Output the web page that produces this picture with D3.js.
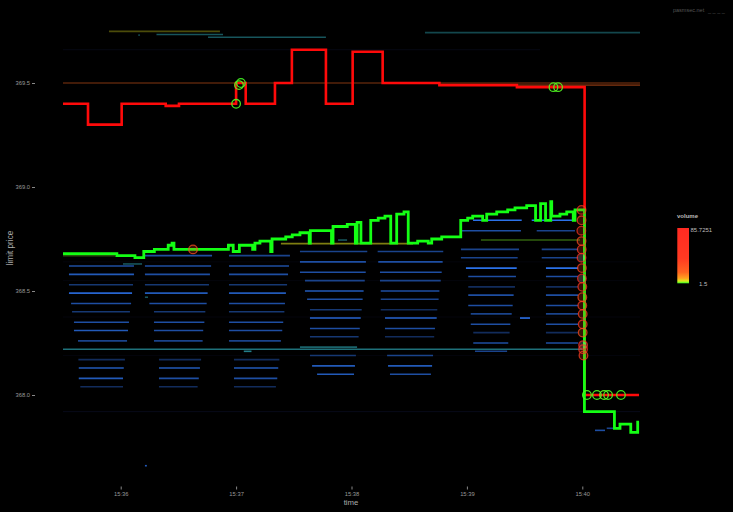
<!DOCTYPE html>
<html><head><meta charset="utf-8">
<script src="https://cdn.jsdelivr.net/npm/d3@7/dist/d3.min.js"></script>
<style>html,body{margin:0;padding:0;background:#000;overflow:hidden}</style>
</head><body>
<svg id="chart" width="733" height="512"></svg>
<script>
// ---------------- data ----------------
const timeDomain = ["15:35:30", "15:40:30"];
const priceDomain = [367.6, 369.8];
const timeTicks = ["15:36", "15:37", "15:38", "15:39", "15:40"];
const priceTicks = [368.0, 368.5, 369.0, 369.5];
const volumeRange = [1.5, 85.7251];
const watermark = "pasmsec.net";

// best ask (step line)
const askSteps = [
  ["15:35:30", 369.40], ["15:35:43", 369.30], ["15:36:00.5", 369.40], ["15:36:23.4", 369.39],
  ["15:36:30.3", 369.40], ["15:37:00", 369.50], ["15:37:05", 369.40], ["15:37:20.2", 369.50],
  ["15:37:29", 369.66], ["15:37:46.7", 369.40], ["15:38:00.6", 369.65], ["15:38:16.2", 369.50],
  ["15:38:45.7", 369.49], ["15:39:26", 369.48], ["15:40:01.2", 368.00], ["15:40:29.5", 368.00]
];

// best bid (step line)
const bidSteps = [
  ["15:35:30", 368.68], ["15:35:58", 368.67], ["15:36:07.4", 368.66], ["15:36:12", 368.69],
  ["15:36:17.5", 368.70], ["15:36:24.7", 368.72], ["15:36:26.7", 368.73], ["15:36:27.7", 368.70],
  ["15:36:56", 368.72], ["15:36:58.5", 368.69], ["15:37:01.7", 368.72], ["15:37:08.6", 368.70],
  ["15:37:09.8", 368.73], ["15:37:12.4", 368.74], ["15:37:18", 368.69], ["15:37:18.7", 368.75],
  ["15:37:25.8", 368.76], ["15:37:29.2", 368.77], ["15:37:33.2", 368.78], ["15:37:38", 368.73],
  ["15:37:38.6", 368.79], ["15:37:49.6", 368.73], ["15:37:50.4", 368.81], ["15:37:57.8", 368.82],
  ["15:38:02", 368.73], ["15:38:02.9", 368.83], ["15:38:04.9", 368.73], ["15:38:10", 368.84],
  ["15:38:13.9", 368.85], ["15:38:17.4", 368.86], ["15:38:20.4", 368.73], ["15:38:23.5", 368.87],
  ["15:38:27.3", 368.88], ["15:38:29.5", 368.73], ["15:38:34.4", 368.74], ["15:38:39.9", 368.73],
  ["15:38:41.7", 368.75], ["15:38:46.9", 368.76], ["15:38:56.8", 368.84], ["15:39:00.4", 368.85],
  ["15:39:03", 368.86], ["15:39:08.2", 368.84], ["15:39:10.3", 368.87], ["15:39:15.5", 368.88],
  ["15:39:21.2", 368.89], ["15:39:25", 368.90], ["15:39:31.1", 368.91], ["15:39:35.7", 368.84],
  ["15:39:38.3", 368.92], ["15:39:40.9", 368.84], ["15:39:43.6", 368.93], ["15:39:44.1", 368.86],
  ["15:39:48.4", 368.87], ["15:39:51.9", 368.88], ["15:39:55.3", 368.84], ["15:39:56.2", 368.89],
  ["15:40:01.1", 367.92], ["15:40:16.7", 367.84], ["15:40:19.6", 367.86], ["15:40:25.2", 367.82],
  ["15:40:28.8", 367.87], ["15:40:29.5", 367.87]
];

// trades: time, price, volume
const trades = [
  ["15:36:37.6", 368.70, 30],
  ["15:37:00", 369.40, 2], ["15:37:01.5", 369.49, 2.5], ["15:37:02.5", 369.50, 1.8],
  ["15:39:45", 369.48, 2], ["15:39:47.4", 369.48, 2.2],
  ["15:39:59.6", 368.89, 40], ["15:39:59.6", 368.84, 35], ["15:39:59.5", 368.79, 45],
  ["15:39:59.6", 368.74, 30], ["15:39:59.7", 368.70, 40], ["15:39:59.6", 368.66, 80],
  ["15:39:59.8", 368.61, 35], ["15:39:59.8", 368.56, 85], ["15:40:00", 368.52, 40],
  ["15:40:00", 368.47, 30], ["15:40:00", 368.43, 40], ["15:40:00.2", 368.39, 35],
  ["15:40:00.2", 368.34, 40], ["15:40:00.2", 368.30, 30], ["15:40:00.4", 368.24, 85],
  ["15:40:00.4", 368.22, 60], ["15:40:00.6", 368.19, 35],
  ["15:40:02.4", 368.00, 2], ["15:40:07.6", 368.00, 2], ["15:40:11.3", 368.00, 2.5],
  ["15:40:13.4", 368.00, 2], ["15:40:20.1", 368.00, 1.8]
];

// resting order levels: start, end, price, volume, kind
const depthSegments = [
  // faint levels
  ["15:35:30", "15:39:38", 369.66, 5, "n"], ["15:35:30", "15:40:30", 367.92, 6, "n"],
  ["15:35:30", "15:40:30", 368.55, 3, "n"], ["15:35:30", "15:40:30", 368.375, 3, "n"],
  ["15:35:30", "15:40:30", 368.64, 3, "n"], ["15:35:30", "15:40:30", 368.19, 3, "n"],
  // top levels
  ["15:35:53.9", "15:36:51.6", 369.748, 4, "y"], ["15:36:18.6", "15:36:53.2", 369.733, 5, "t"],
  ["15:36:45.4", "15:37:46.7", 369.72, 5, "t"], ["15:38:38.2", "15:40:30", 369.742, 4, "t"],
  ["15:36:09.2", "15:36:09.9", 369.73, 5, "t"],
  // ask level
  ["15:35:30", "15:40:30", 369.50, 6, "o"], ["15:39:26", "15:40:30", 369.49, 7, "o"],
  // long levels
  ["15:35:30", "15:40:00", 368.22, 7, "t"],
  ["15:37:23.3", "15:38:32", 368.728, 7, "y"], ["15:39:07.3", "15:39:58.8", 368.745, 6, "g"],
  ["15:35:30", "15:35:57", 368.67, 5, "g"],
  // small pieces
  ["15:36:01.2", "15:36:11.1", 368.63, 5, "t"], ["15:36:12.6", "15:36:14.2", 368.47, 5, "t"],
  ["15:37:53", "15:37:57.7", 368.745, 5, "t"], ["15:37:04", "15:37:08", 368.21, 8, "t"],
  ["15:36:12.6", "15:36:13.6", 367.66, 7, "b"], ["15:39:27.6", "15:39:32.8", 368.37, 9, "b"],
  // block 1
  ["15:35:33.1", "15:36:06.9", 368.62, 6, "b"], ["15:35:33.1", "15:36:06.9", 368.58, 7, "b"],
  ["15:35:33.1", "15:36:06.4", 368.53, 4, "b"], ["15:35:33.1", "15:36:05.9", 368.49, 8, "b"],
  ["15:35:34.2", "15:36:05.4", 368.44, 6, "b"], ["15:35:34.7", "15:36:04.8", 368.40, 4, "b"],
  ["15:35:35.7", "15:36:04.3", 368.35, 6, "b"], ["15:35:35.7", "15:36:03.8", 368.31, 7, "b"],
  ["15:35:37.8", "15:36:03.3", 368.26, 5, "b"], ["15:35:38", "15:36:02.2", 368.17, 3, "b"],
  ["15:35:38.2", "15:36:01.6", 368.13, 7, "b"], ["15:35:38.2", "15:36:01.2", 368.08, 7, "b"],
  ["15:35:39", "15:36:01.2", 368.04, 3, "b"],
  // block 2
  ["15:36:12.6", "15:36:47.5", 368.67, 6, "b"], ["15:36:12.6", "15:36:47", 368.62, 6, "b"],
  ["15:36:12.6", "15:36:46.4", 368.58, 6, "b"], ["15:36:12.6", "15:36:45.9", 368.53, 4, "b"],
  ["15:36:12.6", "15:36:45.2", 368.49, 7, "b"], ["15:36:14.9", "15:36:44.7", 368.44, 6, "b"],
  ["15:36:17.3", "15:36:44", 368.40, 4, "b"], ["15:36:17.3", "15:36:43.5", 368.35, 6, "b"],
  ["15:36:17.3", "15:36:42.9", 368.31, 6, "b"], ["15:36:17.3", "15:36:42.6", 368.26, 5, "b"],
  ["15:36:19.9", "15:36:41.8", 368.17, 3, "b"], ["15:36:19.9", "15:36:41.2", 368.13, 7, "b"],
  ["15:36:19.9", "15:36:40.6", 368.08, 6, "b"], ["15:36:19.9", "15:36:40", 368.04, 3, "b"],
  // block 3
  ["15:36:56.3", "15:37:28", 368.67, 5, "b"], ["15:36:56.3", "15:37:27.5", 368.62, 6, "b"],
  ["15:36:56.3", "15:37:27", 368.58, 6, "b"], ["15:36:56.3", "15:37:26.5", 368.53, 4, "b"],
  ["15:36:56.3", "15:37:25.9", 368.49, 7, "b"], ["15:36:56.3", "15:37:25.4", 368.44, 6, "b"],
  ["15:36:56.3", "15:37:25.1", 368.40, 4, "b"], ["15:36:56.3", "15:37:24.5", 368.35, 6, "b"],
  ["15:36:56.3", "15:37:24", 368.31, 6, "b"], ["15:36:56.3", "15:37:23.3", 368.26, 5, "b"],
  ["15:36:58.9", "15:37:22.5", 368.17, 3, "b"], ["15:36:58.9", "15:37:21.9", 368.13, 7, "b"],
  ["15:36:58.9", "15:37:21.4", 368.08, 6, "b"], ["15:36:58.9", "15:37:20.7", 368.04, 3, "b"],
  // block 4
  ["15:37:33.2", "15:38:08.2", 368.69, 5, "b"], ["15:37:33.2", "15:38:07.5", 368.64, 6, "b"],
  ["15:37:33.2", "15:38:07.4", 368.59, 6, "b"], ["15:37:35.8", "15:38:06.9", 368.55, 5, "b"],
  ["15:37:35.8", "15:38:06.3", 368.50, 7, "b"], ["15:37:36.9", "15:38:05.8", 368.46, 6, "b"],
  ["15:37:38.4", "15:38:05.3", 368.41, 4, "b"], ["15:37:38.4", "15:38:04.8", 368.37, 8, "b"],
  ["15:37:38.4", "15:38:04.3", 368.32, 6, "b"], ["15:37:38.4", "15:38:03.7", 368.28, 4, "b"],
  ["15:37:33.2", "15:38:02.9", 368.23, 6, "t"], ["15:37:38.4", "15:38:02.3", 368.19, 4, "b"],
  ["15:37:39.5", "15:38:01.8", 368.14, 7, "b"], ["15:37:42.1", "15:38:01.3", 368.10, 7, "b"],
  // block 5
  ["15:38:13.6", "15:38:47.7", 368.69, 5, "b"], ["15:38:13.9", "15:38:47.4", 368.64, 6, "b"],
  ["15:38:14.8", "15:38:46.9", 368.59, 6, "b"], ["15:38:14.8", "15:38:46.4", 368.55, 5, "b"],
  ["15:38:15.2", "15:38:45.7", 368.50, 6, "b"], ["15:38:15.2", "15:38:45.3", 368.46, 5, "b"],
  ["15:38:15.2", "15:38:44.6", 368.41, 3, "b"], ["15:38:17.4", "15:38:44.3", 368.37, 8, "b"],
  ["15:38:17.4", "15:38:43.4", 368.32, 6, "b"], ["15:38:17.4", "15:38:43", 368.28, 3, "b"],
  ["15:38:18.5", "15:38:42.4", 368.19, 5, "b"], ["15:38:19", "15:38:41.9", 368.14, 7, "b"],
  ["15:38:20", "15:38:41.3", 368.10, 6, "b"],
  // block 6
  ["15:39:03.2", "15:39:28.5", 368.84, 9, "b"], ["15:38:57.3", "15:39:28.1", 368.79, 6, "b"],
  ["15:38:56.9", "15:39:27.1", 368.70, 5, "b"], ["15:38:56.9", "15:39:26.4", 368.66, 5, "b"],
  ["15:38:59.5", "15:39:25.9", 368.61, 9, "b"], ["15:39:00.7", "15:39:25.5", 368.57, 6, "b"],
  ["15:39:00.7", "15:39:25", 368.52, 3, "b"], ["15:39:00.7", "15:39:24.3", 368.48, 6, "b"],
  ["15:39:00.7", "15:39:23.8", 368.43, 6, "b"], ["15:39:02", "15:39:23.3", 368.39, 5, "b"],
  ["15:39:02", "15:39:22.6", 368.34, 6, "b"], ["15:39:03.3", "15:39:22.2", 368.30, 3, "b"],
  ["15:39:03.3", "15:39:21.5", 368.25, 6, "b"], ["15:39:04.2", "15:39:20.9", 368.21, 5, "b"],
  // block 7
  ["15:39:33.7", "15:39:56.2", 368.84, 9, "b"], ["15:39:36.3", "15:39:56.2", 368.79, 5, "b"],
  ["15:39:38.9", "15:39:57.8", 368.70, 5, "b"], ["15:39:38.9", "15:39:57.8", 368.66, 5, "b"],
  ["15:39:41.1", "15:39:57.8", 368.61, 9, "b"], ["15:39:41.1", "15:39:57.8", 368.57, 6, "b"],
  ["15:39:41.1", "15:39:57.8", 368.52, 3, "b"], ["15:39:41.1", "15:39:57.8", 368.48, 6, "b"],
  ["15:39:41.1", "15:39:57.8", 368.43, 6, "b"], ["15:39:41.1", "15:39:57.8", 368.39, 5, "b"],
  ["15:39:41.1", "15:39:57.8", 368.34, 6, "b"], ["15:39:41.1", "15:39:57.8", 368.30, 3, "b"],
  ["15:39:41.1", "15:39:57.8", 368.25, 6, "b"],
  // after the drop
  ["15:40:06.6", "15:40:11.8", 367.83, 6, "b"], ["15:40:12.7", "15:40:16", 367.84, 5, "b"]
];

// ---------------- drawing ----------------
function parseT(s) {
  const p = s.split(":").map(Number);
  const sec = p[2] || 0;
  return new Date(2020, 0, 1, p[0], p[1], 0, Math.round(sec * 1000));
}

const svg = d3.select("#chart");
svg.append("rect").attr("width", 733).attr("height", 512).attr("fill", "#000");

const x = d3.scaleTime().domain(timeDomain.map(parseT)).range([63, 640]);
const y = d3.scaleLinear().domain(priceDomain).range([478.2, 20.6]);

const kindRange = {
  b: ["#050a16", "#2f7cff"],
  t: ["#031010", "#2a9aa8"],
  y: ["#0a0a00", "#b0b018"],
  g: ["#040a00", "#4e9a18"],
  o: ["#100500", "#8a3812"],
  n: ["#000000", "#0c1028"]
};
const kindColor = {};
Object.keys(kindRange).forEach(k => {
  kindColor[k] = d3.scaleLinear().domain([0, 10]).range(kindRange[k]).interpolate(d3.interpolateRgb).clamp(true);
});

const defs = svg.append("defs");
defs.append("clipPath").attr("id", "plotclip")
  .append("rect").attr("x", 63).attr("y", 0).attr("width", 577).attr("height", 490);

const plot = svg.append("g").attr("clip-path", "url(#plotclip)");

plot.append("g").selectAll("line").data(depthSegments).join("line")
  .attr("x1", d => x(parseT(d[0])))
  .attr("x2", d => x(parseT(d[1])))
  .attr("y1", d => y(d[2]))
  .attr("y2", d => y(d[2]))
  .attr("stroke", d => kindColor[d[4]](d[3]))
  .attr("stroke-width", d => d[4] === "n" ? 1 : 1.6);

const stepLine = d3.line()
  .x(d => x(parseT(d[0])))
  .y(d => y(d[1]))
  .curve(d3.curveStepAfter);

plot.append("path").datum(askSteps).attr("d", stepLine)
  .attr("fill", "none").attr("stroke", "#ff0a0a").attr("stroke-width", 2.6)
  .attr("stroke-linejoin", "miter");
plot.append("path").datum(bidSteps).attr("d", stepLine)
  .attr("fill", "none").attr("stroke", "#14ff14").attr("stroke-width", 2.8)
  .attr("stroke-linejoin", "miter");

// volume colour scale (legend)
const vMin = volumeRange[0], vMax = volumeRange[1];
const stopFrac = [0, 0.04, 0.09, 0.2, 0.45, 1];
const stopCol = ["#33ff22", "#d8ec1e", "#ffa21e", "#ff6420", "#ff3a22", "#ff2a22"];
const volColor = d3.scaleLinear()
  .domain(stopFrac.map(f => vMin + f * (vMax - vMin)))
  .range(stopCol).clamp(true);

plot.append("g").selectAll("circle").data(trades).join("circle")
  .attr("cx", d => x(parseT(d[0])))
  .attr("cy", d => y(d[1]))
  .attr("r", 4.3)
  .attr("fill", d => d[2] > 60 ? "#ffd0d0" : volColor(d[2]))
  .attr("fill-opacity", d => d[2] > 10 ? 0.22 : 0)
  .attr("stroke", d => volColor(d[2]))
  .attr("stroke-opacity", d => d[2] > 10 ? 0.72 : 0.9)
  .attr("stroke-width", 1.3);

// axes
const font = "'Liberation Sans', Arial, sans-serif";
const yAxis = d3.axisLeft(y).tickValues(priceTicks).tickFormat(d3.format(".1f")).tickSize(3).tickPadding(2);
const gy = svg.append("g").attr("transform", "translate(35,0)").call(yAxis);
gy.select(".domain").remove();
gy.selectAll("line").attr("stroke", "#888");
gy.selectAll("text").attr("fill", "#999").style("font-size", "5.8px").style("font-family", font);

const xAxis = d3.axisBottom(x).tickValues(timeTicks.map(parseT)).tickFormat(d3.timeFormat("%H:%M")).tickSize(3).tickPadding(2);
const gx = svg.append("g").attr("transform", "translate(0,486.5)").call(xAxis);
gx.select(".domain").remove();
gx.selectAll("line").attr("stroke", "#888");
gx.selectAll("text").attr("fill", "#999").style("font-size", "5.8px").style("font-family", font);

svg.append("text").attr("x", 351).attr("y", 505).attr("text-anchor", "middle")
  .attr("fill", "#aaa").style("font-size", "7.8px").style("font-family", font).text("time");
svg.append("text").attr("transform", "translate(13,248) rotate(-90)").attr("text-anchor", "middle")
  .attr("fill", "#aaa").style("font-size", "8.2px").style("font-family", font).text("limit price");

// legend
const grad = defs.append("linearGradient").attr("id", "volgrad")
  .attr("x1", 0).attr("y1", 1).attr("x2", 0).attr("y2", 0);
stopFrac.forEach((f, i) => grad.append("stop").attr("offset", f).attr("stop-color", stopCol[i]));
const legY = d3.scaleLinear().domain(volumeRange).range([283.3, 228]);
svg.append("rect").attr("x", 677.3).attr("y", legY(vMax)).attr("width", 11.7)
  .attr("height", legY(vMin) - legY(vMax)).attr("fill", "url(#volgrad)");
svg.append("text").attr("x", 677).attr("y", 218).attr("fill", "#bbb")
  .style("font-size", "6px").style("font-weight", "bold").style("font-family", font).text("volume");
svg.append("text").attr("x", 690.5).attr("y", legY(vMax) + 4).attr("fill", "#bbb")
  .style("font-size", "6px").style("font-family", font).text(String(vMax));
svg.append("text").attr("x", 699).attr("y", legY(vMin) + 2.5).attr("fill", "#bbb")
  .style("font-size", "6px").style("font-family", font).text(String(vMin));

// watermark
svg.append("text").attr("x", 673).attr("y", 12).attr("fill", "#555")
  .style("font-size", "5.5px").style("font-family", font).text(watermark);
svg.append("text").attr("x", 708).attr("y", 13).attr("fill", "#555")
  .style("font-size", "5.5px").style("font-family", font).text("_ _ _ _");
</script>
</body></html>
